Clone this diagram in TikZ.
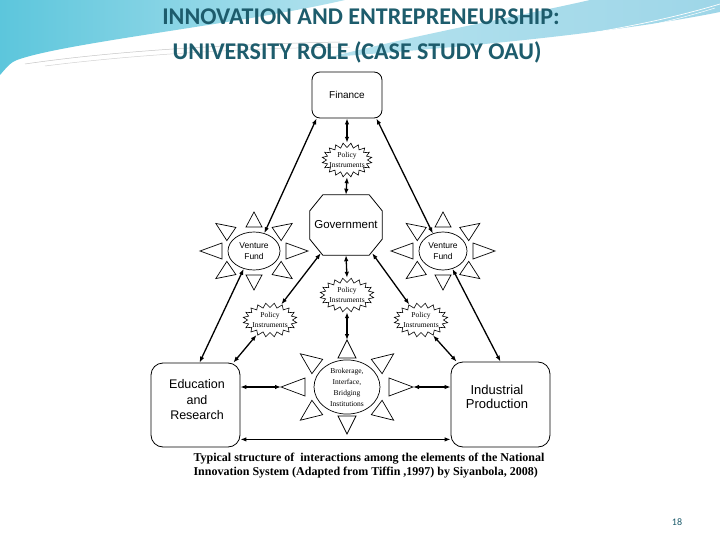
\documentclass[tikz,border=0pt]{standalone}
\usepackage{fontspec}
\setmainfont{Liberation Sans}
\newfontfamily\titlefont{Carlito}
\newfontfamily\capfont{Liberation Serif}
\usetikzlibrary{calc,arrows.meta,shapes.geometric}
\definecolor{titleteal}{HTML}{1D5C6C}
\definecolor{skyA}{HTML}{5CC6DC}
\definecolor{skyB}{HTML}{B4E2EE}
\definecolor{skyC}{HTML}{9ED6E8}

\newcommand\mkburst[3]{%
  \draw[burstline, shift={(#1.center)}] plot[domain=0:39, samples=40]
    ({(#2-4.5+4.5*mod(round(\x),2))*cos(\x*9)}, {(#3-4.5+4.5*mod(round(\x),2))*sin(\x*9)}) -- cycle;}
\newcommand\mkrays[6]{%
  \foreach \t in {0,45,...,315}{%
    \coordinate (rb) at ($(#1.center)+({#2*cos(\t)},{-#3*sin(\t)})$);
    \coordinate (ra) at ($(#1.center)+({#4*cos(\t)},{-#5*sin(\t)})$);
    \draw[ray] ($(rb)!#6!90:(ra)$) -- (ra) -- ($(rb)!#6!-90:(ra)$) -- cycle;
  }}

\tikzset{
  box/.style={draw, line width=0.8pt, rounded corners=12pt, inner sep=0pt},
  conn/.style={line width=1.3pt, {Latex[length=6pt,width=4.5pt]}-{Latex[length=6pt,width=4.5pt]}},
  ray/.style={draw, line width=0.7pt, fill=white},
  burstline/.style={draw, line width=0.6pt, fill=white},
  pinode/.style={ellipse, draw=none, minimum width=50pt, minimum height=34pt, inner sep=0pt,
     align=center, font=\capfont\fontsize{7.5}{9.5}\selectfont},
  vfnode/.style={ellipse, draw, line width=0.7pt, fill=white, minimum width=52pt, minimum height=38pt,
     inner sep=0pt, align=center, font=\fontsize{8.5}{11}\selectfont},
  titletext/.style={font=\titlefont\bfseries\fontsize{24}{26}\selectfont, text=titleteal},
  captext/.style={anchor=west, font=\capfont\bfseries\fontsize{12}{14}\selectfont},
}

\begin{document}
\begin{tikzpicture}[x=1pt,y=-1pt]
\useasboundingbox (0,0) rectangle (720,540);
\fill[white] (0,0) rectangle (720,540);
% background swooshes
\shade[left color=skyA, right color=skyB] (0,0) -- (345,0) .. controls (250,22) and (90,40) .. (30,56) .. controls (12,61) .. (0,75) -- cycle;
\shade[left color=skyB, right color=skyC] (330,57) .. controls (480,46) and (620,32) .. (720,12) -- (720,0) -- (590,0) .. controls (520,16) and (430,32) .. (330,57) -- cycle;
\draw[gray!45, line width=0.5pt] (25,64) .. controls (120,50) and (240,44) .. (340,42);
\draw[gray!35, line width=0.5pt] (45,66) .. controls (140,54) and (250,48) .. (350,47);
\draw[white, line width=0.7pt] (470,48) .. controls (580,38) and (660,22) .. (720,4);
\draw[white, line width=0.5pt] (520,46) .. controls (610,36) and (670,22) .. (715,8);

% titles
\node[titletext] (t1) at (361,17) {INNOVATION AND ENTREPRENEURSHIP:};
\node[titletext] (t2) at (357,52) {UNIVERSITY ROLE (CASE STUDY OAU)};

% nodes
\node[box, rounded corners=8pt, minimum width=70pt, minimum height=46pt, font=\fontsize{10}{12}\selectfont] (fin) at (347,95) {Finance};
\node[pinode] (pi1) at (347,160) {};
\mkburst{pi1}{25}{17}
\node[pinode] (pi1t) at (347,160) {Policy\\Instruments};

\node[minimum width=72pt, minimum height=60pt, inner sep=0pt, font=\fontsize{11.5}{13}\selectfont] (gov) at (346,225) {Government};
\draw[line width=0.8pt] ($(gov.north west)+(13,0)$) -- ($(gov.north east)+(-13,0)$) -- ($(gov.north east)+(0,16)$)
  -- ($(gov.south east)+(0,-16)$) -- ($(gov.south east)+(-13,0)$) -- ($(gov.south west)+(13,0)$)
  -- ($(gov.south west)+(0,-16)$) -- ($(gov.north west)+(0,16)$) -- cycle;

\node[vfnode] (vfl) at (254,251) {Venture\\Fund};
\mkrays{vfl}{32}{24}{54}{39}{8pt}
\node[vfnode, minimum width=48pt] (vfr) at (443,251) {Venture\\Fund};
\mkrays{vfr}{30}{24}{52}{39}{8pt}

\node[pinode, minimum width=54pt] (pi2) at (347,295) {};
\mkburst{pi2}{27}{17}
\node[pinode, minimum width=54pt] (pi2t) at (347,295) {Policy\\Instruments};
\node[pinode, minimum width=54pt] (pi3) at (270,320) {};
\mkburst{pi3}{27}{17}
\node[pinode, minimum width=54pt] (pi3t) at (270,320) {Policy\\Instruments};
\node[pinode, minimum width=54pt] (pi4) at (421,320) {};
\mkburst{pi4}{27}{17}
\node[pinode, minimum width=54pt] (pi4t) at (421,320) {Policy\\Instruments};

\node[ellipse, draw, line width=0.7pt, minimum width=66pt, minimum height=50pt, inner sep=0pt,
  align=center, font=\capfont\fontsize{7.5}{11}\selectfont] (brk) at (347,387) {Brokerage,\\Interface,\\Bridging\\Institutions};
\mkrays{brk}{42}{29}{66}{47}{9pt}
\coordinate (brkN) at ($(brk.center)+(0,-47)$);
\coordinate (brkW) at ($(brk.center)+(-66,0)$);
\coordinate (brkE) at ($(brk.center)+(66,0)$);

\node[box, minimum width=89pt, minimum height=84pt] (edu) at (195.5,405) {};
\node[align=center, font=\fontsize{12.5}{15.5}\selectfont] (edut) at (197,400) {Education\\and\\Research};
\node[box, minimum width=99pt, minimum height=85pt] (ind) at (500.5,404.5) {};
\node[align=center, font=\fontsize{13}{14}\selectfont] (indt) at (497,397) {Industrial\\Production};

% connectors
\draw[conn] (fin.south) -- (pi1.north);
\draw[conn] (pi1.south) -- (gov.north);
\draw[conn] (gov.south) -- (pi2.north);
\draw[conn] (pi2.south) -- (brkN);
\draw[conn] ($(fin.south west)+(5,0)$) -- (vfl.60);
\draw[conn] ($(fin.south east)+(-6,0)$) -- (vfr.120);
\draw[conn] (vfl.240) -- ($(edu.north)+(4,0)$);
\draw[conn] ($(gov.south west)+(11,-2)$) -- (pi3.54);
\draw[conn] (pi3.228) -- ($(edu.north east)+(-7,0)$);
\draw[conn] ($(gov.south east)+(-10,-2)$) -- (pi4.127);
\draw[conn] (pi4.-52) -- ($(ind.north west)+(6,0)$);
\draw[conn] (vfr.-62) -- (ind.north);
\draw[conn] (edu.east |- brkW) -- (brkW);
\draw[conn] (brkE) -- (ind.west |- brkE);
\coordinate (bot) at ($(edu.south east)+(0,-8)$);
\draw[conn] (bot) -- (ind.west |- bot);

% caption
\node[captext] (cap1) at (190,459) {Typical structure of\ \ interactions among the elements of the National};
\node[captext] (cap2) at (190,473) {Innovation System (Adapted from Tiffin ,1997) by Siyanbola, 2008)};

\node[font=\titlefont\fontsize{10}{12}\selectfont, text=titleteal] (pg) at (677,522) {18};
\end{tikzpicture}
\end{document}
